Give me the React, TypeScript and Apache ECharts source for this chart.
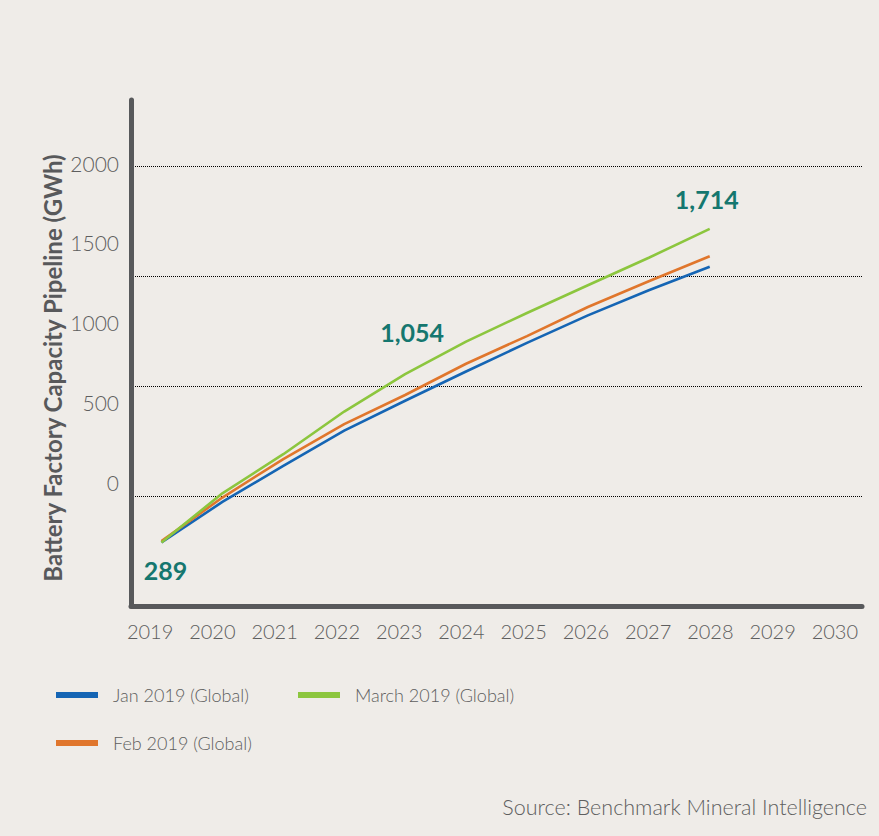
import React, { useEffect, useRef } from "react";
import * as echarts from "echarts";

const years = ["2019", "2020", "2021", "2022", "2023", "2024", "2025", "2026", "2027", "2028", "2029", "2030"];
const janValues = [289, 473, 637, 797, 933, 1066, 1196, 1321, 1435, 1542];
const febValues = [295, 493, 668, 827, 959, 1101, 1227, 1359, 1476, 1590];
const marchValues = [289, 512, 690, 884, 1054, 1202, 1332, 1458, 1583, 1714];
const seriesNames = ["Jan 2019 (Global)", "Feb 2019 (Global)", "March 2019 (Global)"];
const yTitle = "Battery Factory Capacity Pipeline (GWh)";
const sourceText = "Source: Benchmark Mineral Intelligence";

const BG = "#efece8";
const AXIS = "#58595b";
const TEXT = "#5e5e5e";
const TEAL = "#15776f";
const FONT = "Lato, 'Open Sans', sans-serif";

// label placement per annotated point (index -> style)
const annotations: Record<number, any> = {
  0: { position: "bottom", distance: 15, offset: [4, 0] },
  4: { position: "top", distance: 30, offset: [7, 0] },
  9: { position: "top", distance: 17, offset: [-3, 0] },
};

export default function App() {
  const ref = useRef<HTMLDivElement>(null);
  useEffect(() => {
    if (!ref.current) return;
    const chart = echarts.init(ref.current, undefined, { renderer: "svg" });
    const marchData = marchValues.map((v, i) =>
      annotations[i]
        ? {
            value: v,
            label: {
              show: true,
              ...annotations[i],
              formatter: (p: any) => Number(p.value).toLocaleString("en-US"),
              color: TEAL,
              fontSize: 25,
              fontWeight: "bold",
              fontFamily: FONT,
            },
          }
        : v
    );
    const legendText = { color: TEXT, fontSize: 18, fontWeight: 300, fontFamily: FONT, padding: [0, 0, 0, 10] };
    chart.setOption({
      animation: false,
      backgroundColor: BG,
      grid: [
        { left: 131, right: 17, top: 100, bottom: 230 },
        { left: 131, right: 17, top: 163, bottom: 354 },
        { left: 119, right: 13, top: 100, bottom: 230 },
      ],
      xAxis: [
        {
          type: "category",
          gridIndex: 0,
          data: years,
          boundaryGap: true,
          axisLine: { show: true, lineStyle: { color: AXIS, width: 5 } },
          axisTick: { show: false },
          axisLabel: { show: false },
          splitLine: { show: false },
        },
        { type: "category", gridIndex: 1, data: years, show: false },
        {
          type: "category",
          gridIndex: 2,
          data: years,
          boundaryGap: true,
          axisLine: { show: false },
          axisTick: { show: false },
          axisLabel: {
            show: true,
            margin: 15,
            color: TEXT,
            fontSize: 20,
            fontWeight: 300,
            fontFamily: FONT,
            interval: 0,
          },
        },
      ],
      yAxis: [
        {
          type: "value",
          gridIndex: 0,
          min: 0,
          max: 2300,
          interval: 500,
          axisLine: { show: true, lineStyle: { color: AXIS, width: 5 } },
          axisTick: { show: false },
          axisLabel: { show: false },
          splitLine: {
            show: true,
            showMinLine: false,
            showMaxLine: false,
            lineStyle: { color: "#000", width: 1, type: "dotted" },
          },
        },
        {
          type: "value",
          gridIndex: 1,
          min: 0,
          max: 2000,
          interval: 500,
          axisLine: { show: false },
          axisTick: { show: false },
          splitLine: { show: false },
          axisLabel: {
            show: true,
            margin: 12,
            color: TEXT,
            fontSize: 21,
            fontWeight: 300,
            fontFamily: FONT,
            formatter: (v: number) => String(v),
          },
        },
        { type: "value", gridIndex: 2, show: false, min: 0, max: 2300 },
      ],
      legend: [
        {
          data: [seriesNames[0], seriesNames[1]],
          orient: "vertical",
          left: 56,
          top: 686,
          padding: 0,
          itemWidth: 42,
          itemHeight: 6,
          itemGap: 30,
          icon: "rect",
          textStyle: legendText,
        },
        {
          data: [seriesNames[2]],
          orient: "vertical",
          left: 298,
          top: 686,
          padding: 0,
          itemWidth: 42,
          itemHeight: 6,
          icon: "rect",
          textStyle: legendText,
        },
      ],
      graphic: [
        {
          type: "text",
          x: 52,
          y: 368,
          rotation: Math.PI / 2,
          style: {
            text: yTitle,
            fill: AXIS,
            fontSize: 24,
            fontWeight: "bold",
            fontFamily: FONT,
            textAlign: "center",
            textVerticalAlign: "middle",
          },
        },
        {
          type: "text",
          x: 867,
          y: 807,
          style: {
            text: sourceText,
            fill: TEXT,
            fontSize: 21.5,
            fontWeight: 300,
            fontFamily: FONT,
            textAlign: "right",
            textVerticalAlign: "middle",
          },
        },
      ],
      series: [
        {
          name: seriesNames[0],
          type: "line",
          xAxisIndex: 0,
          yAxisIndex: 0,
          data: janValues,
          showSymbol: false,
          lineStyle: { color: "#1565b4", width: 2.6 },
          itemStyle: { color: "#1565b4" },
        },
        {
          name: seriesNames[1],
          type: "line",
          xAxisIndex: 0,
          yAxisIndex: 0,
          data: febValues,
          showSymbol: false,
          lineStyle: { color: "#e0762c", width: 2.6 },
          itemStyle: { color: "#e0762c" },
        },
        {
          name: seriesNames[2],
          type: "line",
          xAxisIndex: 0,
          yAxisIndex: 0,
          data: marchData,
          showSymbol: true,
          symbol: "circle",
          symbolSize: 0,
          lineStyle: { color: "#8cc63e", width: 2.6 },
          itemStyle: { color: "#8cc63e" },
        },
      ],
    });
    return () => chart.dispose();
  }, []);
  return (
    <div
      ref={ref}
      style={{ position: "absolute", left: 0, top: 0, width: 879, height: 836, background: BG }}
    />
  );
}
